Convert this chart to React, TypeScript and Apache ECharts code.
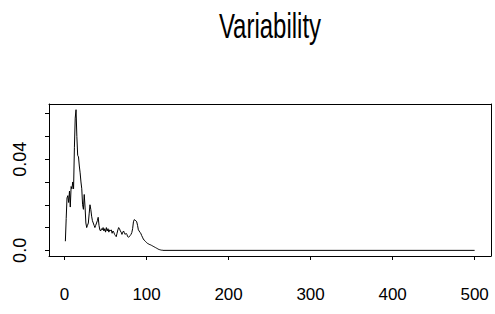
import React, { useEffect, useRef } from "react";
import * as echarts from "echarts";

// Variability at t = 1, 2, 3, ...
const variability = [
  0.004, 0.014, 0.023, 0.024, 0.021, 0.026, 0.019, 0.028, 0.027, 0.030,
  0.027, 0.045, 0.058, 0.0617, 0.050, 0.0417, 0.041, 0.037, 0.034, 0.030,
  0.027, 0.020, 0.018, 0.0245, 0.019, 0.012, 0.010, 0.011, 0.012, 0.016,
  0.020, 0.018, 0.015, 0.013, 0.012, 0.011, 0.010, 0.011, 0.012, 0.013,
  0.0145, 0.011, 0.009, 0.0085, 0.0095, 0.009, 0.010, 0.0085, 0.0095, 0.008,
  0.010, 0.0085, 0.0095, 0.008, 0.009, 0.0085, 0.009, 0.0075, 0.0085, 0.008,
  0.007, 0.0065, 0.006, 0.0075, 0.009, 0.010, 0.0095, 0.0085, 0.008, 0.007,
  0.008, 0.0085, 0.0075, 0.007, 0.0075, 0.007, 0.006, 0.0058, 0.006, 0.0065,
  0.007, 0.0078, 0.0095, 0.0125, 0.0135, 0.0132, 0.013, 0.0125, 0.011, 0.009,
  0.0085, 0.0078, 0.0075, 0.0065, 0.0058, 0.005, 0.0045, 0.0042, 0.0038, 0.0034,
  0.0031, 0.0029, 0.0027, 0.0025, 0.0024, 0.0022, 0.0020, 0.0018, 0.0016, 0.0014,
  0.0012, 0.0010, 0.0008, 0.0006, 0.0004, 0.0003, 0.0002, 0.0001, 0.0001,
];
// flat tail after the decay
const tail: [number, number][] = [
  [120, 0],
  [500, 0],
];

const xTicks = [0, 100, 200, 300, 400, 500];
const yTicks = [0, 0.01, 0.02, 0.03, 0.04, 0.05, 0.06];
const yLabels = [0, 0.04];
const yLabelText: Record<string, string> = { "0": "0.0", "0.04": "0.04" };

const FONT = "'Liberation Sans', Arial, sans-serif";
const X_MIN = -18.96;
const X_MAX = 519.96;
const Y_MIN = -0.00247;
const Y_MAX = 0.0642;

export default function App() {
  const ref = useRef<HTMLDivElement>(null);
  useEffect(() => {
    if (!ref.current) return;
    document.body.style.margin = "0";
    const chart = echarts.init(ref.current, undefined, { renderer: "svg" });
    const data: [number, number][] = variability
      .map((v, i) => [i + 1, v] as [number, number])
      .concat(tail);
    const frameAxis = {
      type: "value",
      splitLine: { show: false },
      axisTick: { show: false },
      axisLabel: { show: false },
      axisLine: { show: true, onZero: false, lineStyle: { color: "#000", width: 1 } },
    };
    chart.setOption({
      animation: false,
      backgroundColor: "#fff",
      graphic: [
        {
          type: "text",
          x: 270,
          y: 26,
          scaleY: 1.45,
          style: {
            text: "Variability",
            fontFamily: FONT,
            fontSize: 24,
            fill: "#000",
            textAlign: "center",
            textVerticalAlign: "middle",
          },
        },
      ],
      grid: {
        left: 49,
        right: 4,
        top: 104,
        bottom: 58,
        show: false,
      },
      xAxis: [
        {
          type: "value",
          position: "bottom",
          min: X_MIN,
          max: X_MAX,
          splitLine: { show: false },
          axisLine: { show: true, onZero: false, lineStyle: { color: "#000", width: 1 } },
          axisTick: {
            show: true,
            length: 4,
            customValues: xTicks,
            lineStyle: { color: "#000" },
          },
          axisLabel: {
            customValues: xTicks,
            margin: 30,
            fontFamily: FONT,
            fontSize: 17,
            color: "#000",
          },
        },
        { ...frameAxis, position: "top", min: X_MIN, max: X_MAX },
      ],
      yAxis: [
        {
          type: "value",
          position: "left",
          min: Y_MIN,
          max: Y_MAX,
          splitLine: { show: false },
          axisLine: { show: true, onZero: false, lineStyle: { color: "#000", width: 1 } },
          axisTick: {
            show: true,
            length: 4,
            customValues: yTicks,
            lineStyle: { color: "#000" },
          },
          axisLabel: {
            customValues: yLabels,
            rotate: 90,
            margin: 20,
            fontFamily: FONT,
            fontSize: 18,
            color: "#000",
            formatter: (v: number) => yLabelText[String(v)] ?? String(v),
          },
        },
        { ...frameAxis, position: "right", min: Y_MIN, max: Y_MAX },
      ],
      series: [
        {
          type: "line",
          data,
          xAxisIndex: 0,
          yAxisIndex: 0,
          showSymbol: false,
          symbol: "none",
          lineStyle: { color: "#000", width: 1 },
        },
      ],
    });
    return () => chart.dispose();
  }, []);
  return <div ref={ref} style={{ width: 495, height: 314 }} />;
}
